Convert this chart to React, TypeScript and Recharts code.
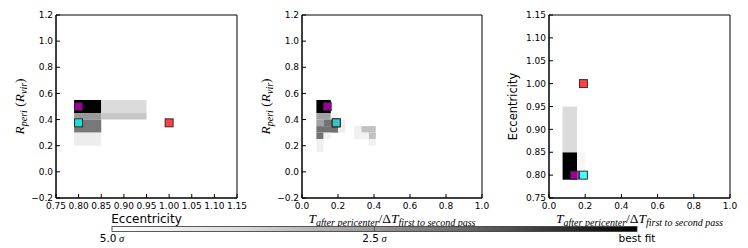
import React from "react";
import { ScatterChart, Scatter, XAxis, YAxis, ReferenceArea } from "recharts";

// tick values
const eccTicks = [0.75, 0.8, 0.85, 0.9, 0.95, 1.0, 1.05, 1.1, 1.15];
const rTicks = [-0.2, 0, 0.2, 0.4, 0.6, 0.8, 1.0, 1.2];
const tTicks = [0, 0.2, 0.4, 0.6, 0.8, 1.0];

// models (drawing order: red, magenta, cyan)
const modelNames = ["red", "magenta", "cyan"];
const modelEcc = [1.0, 0.8, 0.8];
const modelRperi = [0.375, 0.5, 0.375];
const modelT = [0.19, 0.14, 0.19];

// likelihood cells: [x0, x1, y0, y1, level (0 = 5 sigma, 1 = best fit)]
const cellsEccR: number[][] = [
  [0.79, 0.85, 0.45, 0.55, 1.0],
  [0.85, 0.95, 0.45, 0.55, 0.14],
  [0.79, 0.85, 0.4, 0.45, 0.4],
  [0.85, 0.95, 0.4, 0.45, 0.22],
  [0.79, 0.85, 0.3, 0.4, 0.53],
  [0.79, 0.85, 0.2, 0.3, 0.07],
];
const cellsTR: number[][] = [
  [0.08, 0.16, 0.45, 0.55, 1.0],
  [0.08, 0.16, 0.4, 0.45, 0.37],
  [0.08, 0.12, 0.35, 0.4, 0.37],
  [0.12, 0.2, 0.35, 0.4, 0.55],
  [0.08, 0.2, 0.3, 0.35, 0.55],
  [0.08, 0.12, 0.25, 0.3, 0.55],
  [0.12, 0.16, 0.25, 0.3, 0.05],
  [0.2, 0.24, 0.3, 0.4, 0.07],
  [0.16, 0.2, 0.4, 0.45, 0.04],
  [0.08, 0.12, 0.15, 0.25, 0.06],
  [0.29, 0.33, 0.25, 0.35, 0.06],
  [0.33, 0.41, 0.3, 0.35, 0.24],
  [0.37, 0.41, 0.25, 0.3, 0.24],
  [0.33, 0.37, 0.25, 0.3, 0.05],
  [0.37, 0.41, 0.2, 0.25, 0.06],
];
const cellsTE: number[][] = [
  [0.075, 0.155, 0.79, 0.85, 1.0],
  [0.075, 0.155, 0.85, 0.95, 0.14],
  [0.155, 0.2, 0.79, 0.85, 0.03],
];

const cbarLabels = ["5.0", "2.5", "best fit"];
const cbarPos = [0, 0.5, 1];

const modelColor: Record<string, string> = { red: "#ff0000", magenta: "#d000d0", cyan: "#00ffff" };

const tickFont = { fill: "#000", fontSize: 9, fontFamily: "DejaVu Sans" };
const serif = "'Liberation Serif', serif";

const gray = (lvl: number) => {
  const g = Math.round(255 * (1 - lvl));
  return `rgb(${g},${g},${g})`;
};

const square = (color: string) => (p: any) => (
  <rect x={p.cx - 4} y={p.cy - 4} width={8} height={8} fill={color} fillOpacity={0.75} stroke="#222" strokeWidth={0.9} />
);
const nothing = () => <g />;

const TLabel = (p: any) => {
  const vb = p.viewBox;
  return (
    <text x={vb.x + vb.width / 2} y={vb.y + 25} textAnchor="middle" fontFamily={serif} fill="#000">
      <tspan fontStyle="italic" fontSize={13.5}>T</tspan>
      <tspan fontStyle="italic" fontSize={10} dy={3}>after pericenter</tspan>
      <tspan fontSize={13.5} dy={-3}>/Δ</tspan>
      <tspan fontStyle="italic" fontSize={13.5}>T</tspan>
      <tspan fontStyle="italic" fontSize={10} dy={3}>first to second pass</tspan>
    </text>
  );
};

const EccXLabel = (p: any) => {
  const vb = p.viewBox;
  return (
    <text x={vb.x + vb.width / 2} y={vb.y + 25} textAnchor="middle" fontFamily="DejaVu Sans" fontSize={12} fill="#000">
      Eccentricity
    </text>
  );
};

const RLabel = (p: any) => {
  const vb = p.viewBox;
  const x = vb.x + vb.width - 32;
  const y = vb.y + vb.height / 2;
  return (
    <text x={x} y={y} transform={`rotate(-90, ${x}, ${y})`} textAnchor="middle" fontFamily={serif} fill="#000">
      <tspan fontStyle="italic" fontSize={13.5}>R</tspan>
      <tspan fontStyle="italic" fontSize={10} dy={3}>peri</tspan>
      <tspan fontSize={13.5} dy={-3}> (</tspan>
      <tspan fontStyle="italic" fontSize={13.5}>R</tspan>
      <tspan fontStyle="italic" fontSize={10} dy={3}>vir</tspan>
      <tspan fontSize={13.5} dy={-3}>)</tspan>
    </text>
  );
};

const EccYLabel = (p: any) => {
  const vb = p.viewBox;
  const x = vb.x + vb.width - 32;
  const y = vb.y + vb.height / 2;
  return (
    <text x={x} y={y} transform={`rotate(-90, ${x}, ${y})`} textAnchor="middle" fontFamily="DejaVu Sans" fontSize={11.5} fill="#000">
      Eccentricity
    </text>
  );
};

const fmt = (d: number) => (v: number) => (v < 0 ? "\u2212" + Math.abs(v).toFixed(d) : v.toFixed(d));

interface PanelProps {
  left: number;
  width: number;
  yAxisW: number;
  right: number;
  xDomain: number[];
  yDomain: number[];
  xTicks: number[];
  yTicks: number[];
  xDigits: number;
  yDigits: number;
  xs: number[];
  ys: number[];
  cells: number[][];
  xLabel: (p: any) => React.ReactNode;
  yLabel: (p: any) => React.ReactNode;
}

function Panel(props: PanelProps) {
  const { left, width, yAxisW, right, xDomain, yDomain, xTicks, yTicks, xDigits, yDigits, xs, ys, cells } = props;
  const pts = modelNames.map((_, i) => ({ x: xs[i], y: ys[i] }));
  return (
    <div style={{ position: "absolute", left, top: 0 }}>
      <ScatterChart width={width} height={248} margin={{ top: 15, right, bottom: 30, left: 0 }}>
        <XAxis type="number" dataKey="x" domain={xDomain} ticks={xTicks} interval={0} allowDataOverflow
          tickFormatter={fmt(xDigits)} tick={tickFont} tickSize={-4} tickMargin={9} height={20}
          axisLine={{ stroke: "#000" }} tickLine={{ stroke: "#000" }} label={{ content: props.xLabel }} />
        <YAxis type="number" dataKey="y" domain={yDomain} ticks={yTicks} interval={0} allowDataOverflow
          tickFormatter={fmt(yDigits)} tick={tickFont} tickSize={-4} tickMargin={7} width={yAxisW}
          axisLine={{ stroke: "#000" }} tickLine={{ stroke: "#000" }} label={{ content: props.yLabel }} />
        <XAxis xAxisId="t" orientation="top" type="number" dataKey="x" domain={xDomain} ticks={xTicks} interval={0}
          allowDataOverflow tick={false} tickSize={-4} height={0} axisLine={{ stroke: "#000" }} tickLine={{ stroke: "#000" }} />
        <YAxis yAxisId="r" orientation="right" type="number" dataKey="y" domain={yDomain} ticks={yTicks} interval={0}
          allowDataOverflow tick={false} tickSize={-4} width={0} axisLine={{ stroke: "#000" }} tickLine={{ stroke: "#000" }} />
        {cells.map((c, i) => (
          <ReferenceArea key={i} x1={c[0]} x2={c[1]} y1={c[2]} y2={c[3]} fill={gray(c[4])} fillOpacity={1} stroke="none" />
        ))}
        <ReferenceArea x1={xDomain[0]} x2={xDomain[1]} y1={yDomain[0]} y2={yDomain[1]} fill="none" stroke="#000" strokeWidth={1} />
        <Scatter xAxisId="t" yAxisId="r" data={pts} shape={nothing} isAnimationActive={false} />
        {modelNames.map((m, i) => (
          <Scatter key={m} data={[pts[i]]} shape={square(modelColor[m])} isAnimationActive={false} />
        ))}
      </ScatterChart>
    </div>
  );
}

function ColorBar() {
  const x0 = 112;
  const w = 525;
  const y0 = 226.5;
  return (
    <svg width={748} height={248} style={{ position: "absolute", left: 0, top: 0, pointerEvents: "none" }}>
      <defs>
        <linearGradient id="greys" x1="0" x2="1" y1="0" y2="0">
          <stop offset="0" stopColor="#ffffff" />
          <stop offset="0.25" stopColor="#d9d9d9" />
          <stop offset="0.5" stopColor="#969696" />
          <stop offset="0.75" stopColor="#525252" />
          <stop offset="1" stopColor="#000000" />
        </linearGradient>
      </defs>
      <rect x={x0} y={y0} width={w} height={5} fill="url(#greys)" stroke="#333" strokeWidth={0.8} />
      <line x1={x0 + w / 2} x2={x0 + w / 2} y1={y0} y2={y0 + 5} stroke="#555" strokeWidth={1} />
      {cbarLabels.map((l, i) => (
        <text key={l} x={x0 + w * cbarPos[i]} y={242} textAnchor="middle" fontFamily="DejaVu Sans" fontSize={10.5} fill="#000">
          {l}
          {i < 2 && <tspan fontFamily={serif} fontStyle="italic"> σ</tspan>}
        </text>
      ))}
    </svg>
  );
}

export default function App() {
  return (
    <div style={{ position: "absolute", left: 0, top: 0, width: 748, height: 248, background: "#fff" }}>
      <Panel left={0} width={250} yAxisW={56} right={13} xDomain={[0.75, 1.15]} yDomain={[-0.2, 1.2]}
        xTicks={eccTicks} yTicks={rTicks} xDigits={2} yDigits={1} xs={modelEcc} ys={modelRperi}
        cells={cellsEccR} xLabel={EccXLabel} yLabel={RLabel} />
      <Panel left={250} width={250} yAxisW={52} right={18} xDomain={[0, 1]} yDomain={[-0.2, 1.2]}
        xTicks={tTicks} yTicks={rTicks} xDigits={1} yDigits={1} xs={modelT} ys={modelRperi}
        cells={cellsTR} xLabel={TLabel} yLabel={RLabel} />
      <Panel left={500} width={248} yAxisW={49} right={18} xDomain={[0, 1]} yDomain={[0.75, 1.15]}
        xTicks={tTicks} yTicks={eccTicks} xDigits={1} yDigits={2} xs={modelT} ys={modelEcc}
        cells={cellsTE} xLabel={TLabel} yLabel={EccYLabel} />
      <ColorBar />
    </div>
  );
}
